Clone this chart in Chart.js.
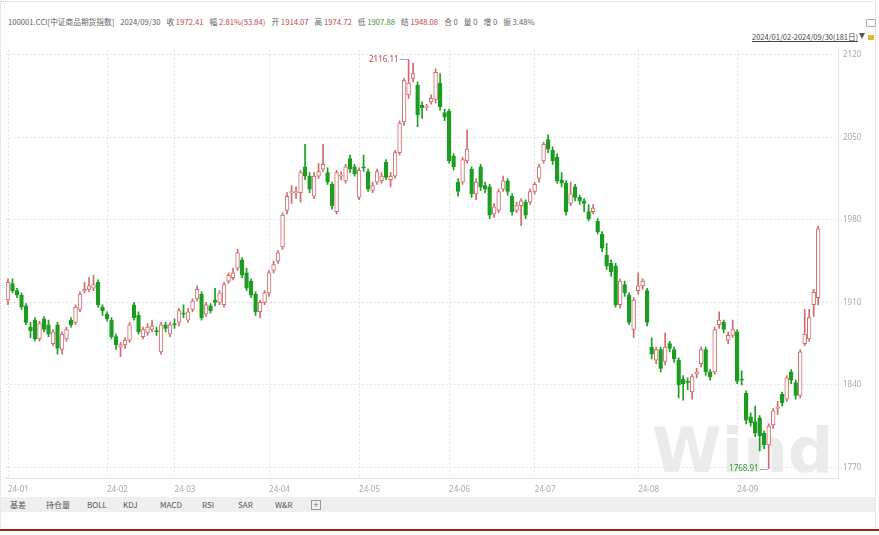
<!DOCTYPE html>
<html>
<head>
<meta charset="utf-8">
<script src="https://cdn.jsdelivr.net/npm/chart.js@4.4.1/dist/chart.umd.min.js"></script>
<style>
  body { margin: 0; background: #fff; font-family: "Noto Sans CJK SC", "Noto Sans", sans-serif; }
  #wrap { position: relative; width: 879px; height: 535px; overflow: hidden; background: #fff; }
  #frame { position: absolute; left: 0; top: 1px; width: 876px; height: 527px; border: 1px dotted #cfcfcf; border-bottom: none; box-sizing: border-box; }
  #head { position: absolute; left: 8px; top: 16px; font-size: 7.7px; line-height: 12px; color: #5f5f5f; white-space: nowrap; }
  #head span { margin-right: 6px; }
  #head b { font-weight: normal; }
  .r { color: #c24848; }
  .gr { color: #2f9a2f; }
  #range { position: absolute; left: 752px; top: 31px; font-size: 7.5px; color: #444; text-decoration: underline; white-space: nowrap; }
  #tri { position: absolute; left: 859px; top: 33px; width: 0; height: 0; border-left: 3.5px solid transparent; border-right: 3.5px solid transparent; border-top: 6px solid #555; }
  #ico1 { position: absolute; left: 866px; top: 19px; width: 8px; height: 6px; border: 1px solid #aaa; border-radius: 1px; }
  #ico2 { position: absolute; left: 868px; top: 35px; width: 6px; height: 5px; background: #e2b53a; }
  #mark { position: absolute; left: 652px; top: 414px; font: bold 63px "DejaVu Sans", sans-serif; color: #ebebeb; }
  #chart { position: absolute; left: 0; top: 40px; }
  #bar { position: absolute; left: 1px; top: 497px; width: 874px; height: 15px; background: #efefef; font-size: 8px; color: #555; }
  #bar span { position: absolute; top: 1px; line-height: 13px; }
  #plus { position: absolute; left: 310px; top: 3px; width: 8px; height: 8px; border: 1px solid #999; font-size: 9px; line-height: 8px; text-align: center; color: #777; }
  #red { position: absolute; left: 0; top: 529px; width: 879px; height: 2px; background: #a81c1c; }
</style>
</head>
<body>
<div id="wrap">
  <div id="frame"></div>
  <div id="head"><span>100001.CCI[中证商品期货指数]</span><span>2024/09/30</span><span>收 <b class="r">1972.41</b></span><span>幅 <b class="r">2.81%(53.84)</b></span><span>开 <b class="r">1914.07</b></span><span>高 <b class="r">1974.72</b></span><span>低 <b class="gr">1907.88</b></span><span>结 <b class="r">1948.08</b></span><span>合 0</span><span>量 0</span><span>增 0</span><span>振 3.48%</span></div>
  <div id="ico1"></div>
  <div id="range">2024/01/02-2024/09/30(181日)</div>
  <div id="tri"></div>
  <div id="ico2"></div>
  <div id="mark">Wind</div>
  <canvas id="chart" width="879" height="460"></canvas>
  <div id="bar">
    <span style="left:9px">基差</span>
    <span style="left:45px">持仓量</span>
    <span style="left:86px">BOLL</span>
    <span style="left:122px">KDJ</span>
    <span style="left:159px">MACD</span>
    <span style="left:201px">RSI</span>
    <span style="left:237px">SAR</span>
    <span style="left:274px">W&amp;R</span>
    <div id="plus">+</div>
  </div>
  <div id="red"></div>
</div>
<script>
// month labels on the time axis (index of first trading day of each month)
const monthStarts = [0, 22, 37, 58, 78, 98, 117, 140, 162];
const monthLabels = ['24-01', '24-02', '24-03', '24-04', '24-05', '24-06', '24-07', '24-08', '24-09'];
const yTicks = [1770, 1840, 1910, 1980, 2050, 2120];

// daily OHLC, 2024/01/02 - 2024/09/30 (181 trading days)
const opens = [
  1912, 1926, 1920, 1916, 1907, 1889, 1895, 1879, 1896, 1891, 1875, 1891, 1870, 1879, 1895, 1893, 1904, 1920, 1921, 1922, 1927, 1906,
  1900, 1895, 1881, 1872, 1874, 1878, 1908, 1899, 1881, 1884, 1887, 1886, 1868, 1891, 1883,
  1892, 1893, 1901, 1895, 1904, 1913, 1917, 1900, 1907, 1912, 1910, 1908, 1928, 1931, 1939, 1946, 1935, 1928, 1917, 1902, 1910,
  1918, 1937, 1945, 1957, 1988, 2003, 2003, 2003, 2025, 2017, 2000, 2017, 2023, 2020, 2010, 1987, 2017, 2013, 2032, 2025,
  1999, 2025, 2021, 2005, 2012, 2013, 2029, 2014, 2017, 2037, 2063, 2086, 2100, 2094, 2077, 2075, 2080, 2082, 2096, 2071,
  2072, 2034, 2012, 2012, 2030, 2023, 2002, 2025, 2009, 2008, 1985, 1988, 2006, 2013, 2000, 1988, 1992, 1995, 1995,
  2004, 2015, 2030, 2048, 2039, 2033, 2014, 2011, 1994, 2008, 1999, 1996, 1987, 1987, 1979, 1968, 1950, 1943, 1941, 1908, 1925, 1916, 1887,
  1920, 1924, 1920, 1872, 1861, 1870, 1860, 1875, 1870, 1861, 1845, 1843, 1834, 1849, 1858, 1870, 1851, 1851, 1891, 1893, 1878, 1882,
  1885, 1845, 1833, 1813, 1809, 1812, 1799, 1789, 1806, 1820, 1832, 1828, 1851, 1842, 1831, 1875, 1879, 1908, 1914.07
];
const highs = [
  1930, 1930, 1922, 1918, 1909, 1893, 1897, 1894, 1898, 1895, 1887, 1893, 1885, 1889, 1897, 1908, 1919, 1927, 1931, 1933, 1929, 1908,
  1902, 1897, 1883, 1876, 1880, 1893, 1910, 1902, 1889, 1892, 1895, 1889, 1893, 1893, 1893,
  1896, 1905, 1908, 1905, 1913, 1924, 1919, 1910, 1909, 1922, 1920, 1927, 1935, 1939, 1955, 1948, 1939, 1930, 1919, 1912, 1920,
  1937, 1945, 1954, 1986, 2003, 2009, 2008, 2022, 2044, 2020, 2020, 2028, 2044, 2024, 2012, 2022, 2021, 2027, 2035, 2027,
  2024, 2035, 2023, 2012, 2023, 2020, 2031, 2020, 2039, 2064, 2100, 2116.11, 2113, 2097, 2080, 2078, 2086, 2108, 2104, 2074,
  2074, 2036, 2015, 2033, 2056, 2025, 2015, 2027, 2012, 2010, 1994, 2006, 2017, 2015, 2002, 1995, 1998, 1997, 2006,
  2012, 2027, 2046, 2052, 2042, 2036, 2020, 2013, 2012, 2010, 2001, 1998, 1993, 1993, 1981, 1970, 1960, 1946, 1943, 1930, 1928, 1918, 1914,
  1935, 1930, 1922, 1880, 1872, 1872, 1884, 1877, 1872, 1863, 1848, 1846, 1849, 1854, 1872, 1872, 1853, 1889, 1902, 1895, 1885, 1895,
  1887, 1852, 1835, 1816, 1822, 1814, 1801, 1807, 1820, 1826, 1834, 1848, 1853, 1844, 1870, 1904, 1904, 1921, 1974.72
];
const lows = [
  1908, 1918, 1914, 1904, 1891, 1880, 1877, 1877, 1885, 1881, 1873, 1866, 1866, 1877, 1889, 1891, 1902, 1918, 1919, 1920, 1906, 1899,
  1894, 1879, 1870, 1864, 1871, 1876, 1895, 1883, 1879, 1882, 1885, 1882, 1866, 1885, 1881,
  1888, 1890, 1897, 1893, 1902, 1911, 1895, 1898, 1901, 1907, 1908, 1906, 1926, 1929, 1937, 1931, 1920, 1914, 1899, 1897, 1908,
  1915, 1935, 1943, 1955, 1985, 1994, 1998, 1995, 2014, 2003, 1998, 2015, 2021, 2010, 1989, 1985, 2014, 2011, 2020, 2017,
  1997, 2021, 2004, 2003, 2010, 2011, 2014, 2008, 2015, 2035, 2060, 2083, 2097, 2059, 2066, 2073, 2078, 2079, 2073, 2064,
  2028, 2022, 2000, 2010, 2028, 1999, 1997, 2005, 2003, 1981, 1982, 1986, 2004, 2001, 1984, 1986, 1975, 1981, 1993,
  2002, 2012, 2028, 2037, 2027, 2011, 2008, 1984, 1992, 1996, 1993, 1987, 1979, 1985, 1968, 1953, 1938, 1932, 1906, 1905, 1915, 1891, 1880,
  1917, 1921, 1890, 1862, 1858, 1851, 1857, 1868, 1859, 1829, 1827, 1836, 1828, 1846, 1855, 1848, 1844, 1849, 1888, 1884, 1875, 1880,
  1841, 1840, 1807, 1805, 1796, 1784, 1786, 1768.91, 1803, 1815, 1822, 1826, 1841, 1828, 1829, 1873, 1877, 1898, 1907.88
];
const closes = [
  1927, 1920, 1916, 1906, 1893, 1886, 1879, 1892, 1887, 1883, 1885, 1871, 1883, 1887, 1891, 1906, 1917, 1921, 1924, 1925, 1908, 1903,
  1896, 1881, 1874, 1874, 1878, 1891, 1897, 1885, 1887, 1889, 1890, 1885, 1891, 1888, 1891,
  1891, 1903, 1900, 1902, 1911, 1921, 1897, 1908, 1903, 1910, 1918, 1925, 1933, 1935, 1952, 1933, 1922, 1916, 1902, 1910, 1918,
  1935, 1942, 1952, 1984, 2000, 2004, 2004, 2020, 2017, 2006, 2017, 2021, 2027, 2012, 1992, 2020, 2018, 2025, 2023, 2019,
  2022, 2024, 2006, 2009, 2021, 2017, 2016, 2017, 2037, 2062, 2098, 2096, 2104, 2069, 2075, 2076, 2083, 2105, 2076, 2067,
  2030, 2025, 2004, 2031, 2040, 2002, 2012, 2008, 2006, 1984, 1991, 2004, 2013, 2004, 1987, 1992, 1996, 1984, 2004,
  2010, 2025, 2044, 2040, 2030, 2013, 2011, 1987, 2002, 1999, 1996, 1994, 1981, 1990, 1970, 1956, 1941, 1936, 1908, 1928, 1918, 1893, 1912,
  1924, 1928, 1893, 1866, 1870, 1854, 1872, 1871, 1862, 1840, 1841, 1842, 1847, 1851, 1870, 1851, 1847, 1887, 1895, 1887, 1882, 1887,
  1843, 1844, 1810, 1808, 1799, 1797, 1789, 1805, 1818, 1821, 1825, 1846, 1844, 1831, 1868, 1883, 1897, 1918.57, 1972.41
];

const upColor = '#d26a6a';
const downColor = '#1d9c22';

const lineColors = [];
const bodyFills = [];
for (let i = 0; i < opens.length; i++) {
  let up = closes[i] >= opens[i];
  lineColors.push(up ? upColor : downColor);
  bodyFills.push(up ? '#ffffff' : downColor);
}

function drawMark(ctx, px, py, text, color) {
  ctx.save();
  ctx.font = '8px "Noto Sans", sans-serif';
  ctx.textAlign = 'right';
  ctx.textBaseline = 'middle';
  ctx.fillStyle = color;
  ctx.fillText(text, px - 10, py);
  ctx.strokeStyle = '#8fa9bb';
  ctx.lineWidth = 1;
  ctx.beginPath();
  ctx.moveTo(px - 9, Math.round(py) + 0.5);
  ctx.lineTo(px - 1, Math.round(py) + 0.5);
  ctx.stroke();
  ctx.restore();
}

const extremes = {
  id: 'extremes',
  afterDatasetsDraw(chart) {
    const ctx = chart.ctx;
    const xs = chart.scales.x;
    const ys = chart.scales.y;
    let hi = highs.indexOf(Math.max(...highs));
    let lo = lows.indexOf(Math.min(...lows));
    drawMark(ctx, xs.getPixelForValue(hi), ys.getPixelForValue(highs[hi]), highs[hi].toFixed(2), '#c24848');
    drawMark(ctx, xs.getPixelForValue(lo), ys.getPixelForValue(lows[lo]), lows[lo].toFixed(2), '#2f9a2f');
  }
};

Chart.defaults.font.family = '"Noto Sans", sans-serif';

const ctx = document.getElementById('chart').getContext('2d');
const chart = new Chart(ctx, {
  type: 'bar',
  data: {
    datasets: [{
      label: 'wick',
      data: lows.map((l, i) => ({ x: i, y: [l, highs[i]] })),
      backgroundColor: lineColors,
      borderWidth: 0,
      barThickness: 1,
      grouped: false,
      order: 2
    }, {
      label: 'body',
      data: opens.map((o, i) => ({ x: i, y: [o, closes[i]] })),
      backgroundColor: bodyFills,
      borderColor: lineColors,
      borderWidth: 1,
      borderSkipped: false,
      barThickness: 3.8,
      grouped: false,
      order: 1
    }]
  },
  options: {
    responsive: false,
    animation: false,
    layout: { padding: { left: 5.75, top: 4, right: 0, bottom: 0 } },
    plugins: { legend: { display: false }, tooltip: { enabled: false } },
    scales: {
      x: {
        type: 'linear',
        offset: false,
        min: -0.5,
        max: 184.4,
        afterBuildTicks: s => { s.ticks = monthStarts.map(v => ({ value: v })); },
        afterFit: s => { s.height = 22; },
        ticks: {
          callback: v => monthLabels[monthStarts.indexOf(v)],
          align: 'start',
          autoSkip: false,
          maxRotation: 0,
          minRotation: 0,
          padding: 7,
          color: '#a8a8a8',
          font: { size: 8 }
        },
        grid: { color: '#e3e3e3', drawTicks: false, offset: false },
        border: { color: '#e2e2e2', dash: [2, 2] }
      },
      y: {
        position: 'right',
        min: 1761.05,
        max: 2124.18,
        afterBuildTicks: s => { s.ticks = yTicks.map(v => ({ value: v })); },
        afterFit: s => { s.width = 41; },
        ticks: {
          callback: v => String(v),
          padding: 5,
          color: '#a8a8a8',
          font: { size: 8 }
        },
        grid: { color: '#e3e3e3', drawTicks: false },
        border: { color: '#e2e2e2', dash: [2, 2] }
      }
    }
  },
  plugins: [extremes]
});
</script>
</body>
</html>
